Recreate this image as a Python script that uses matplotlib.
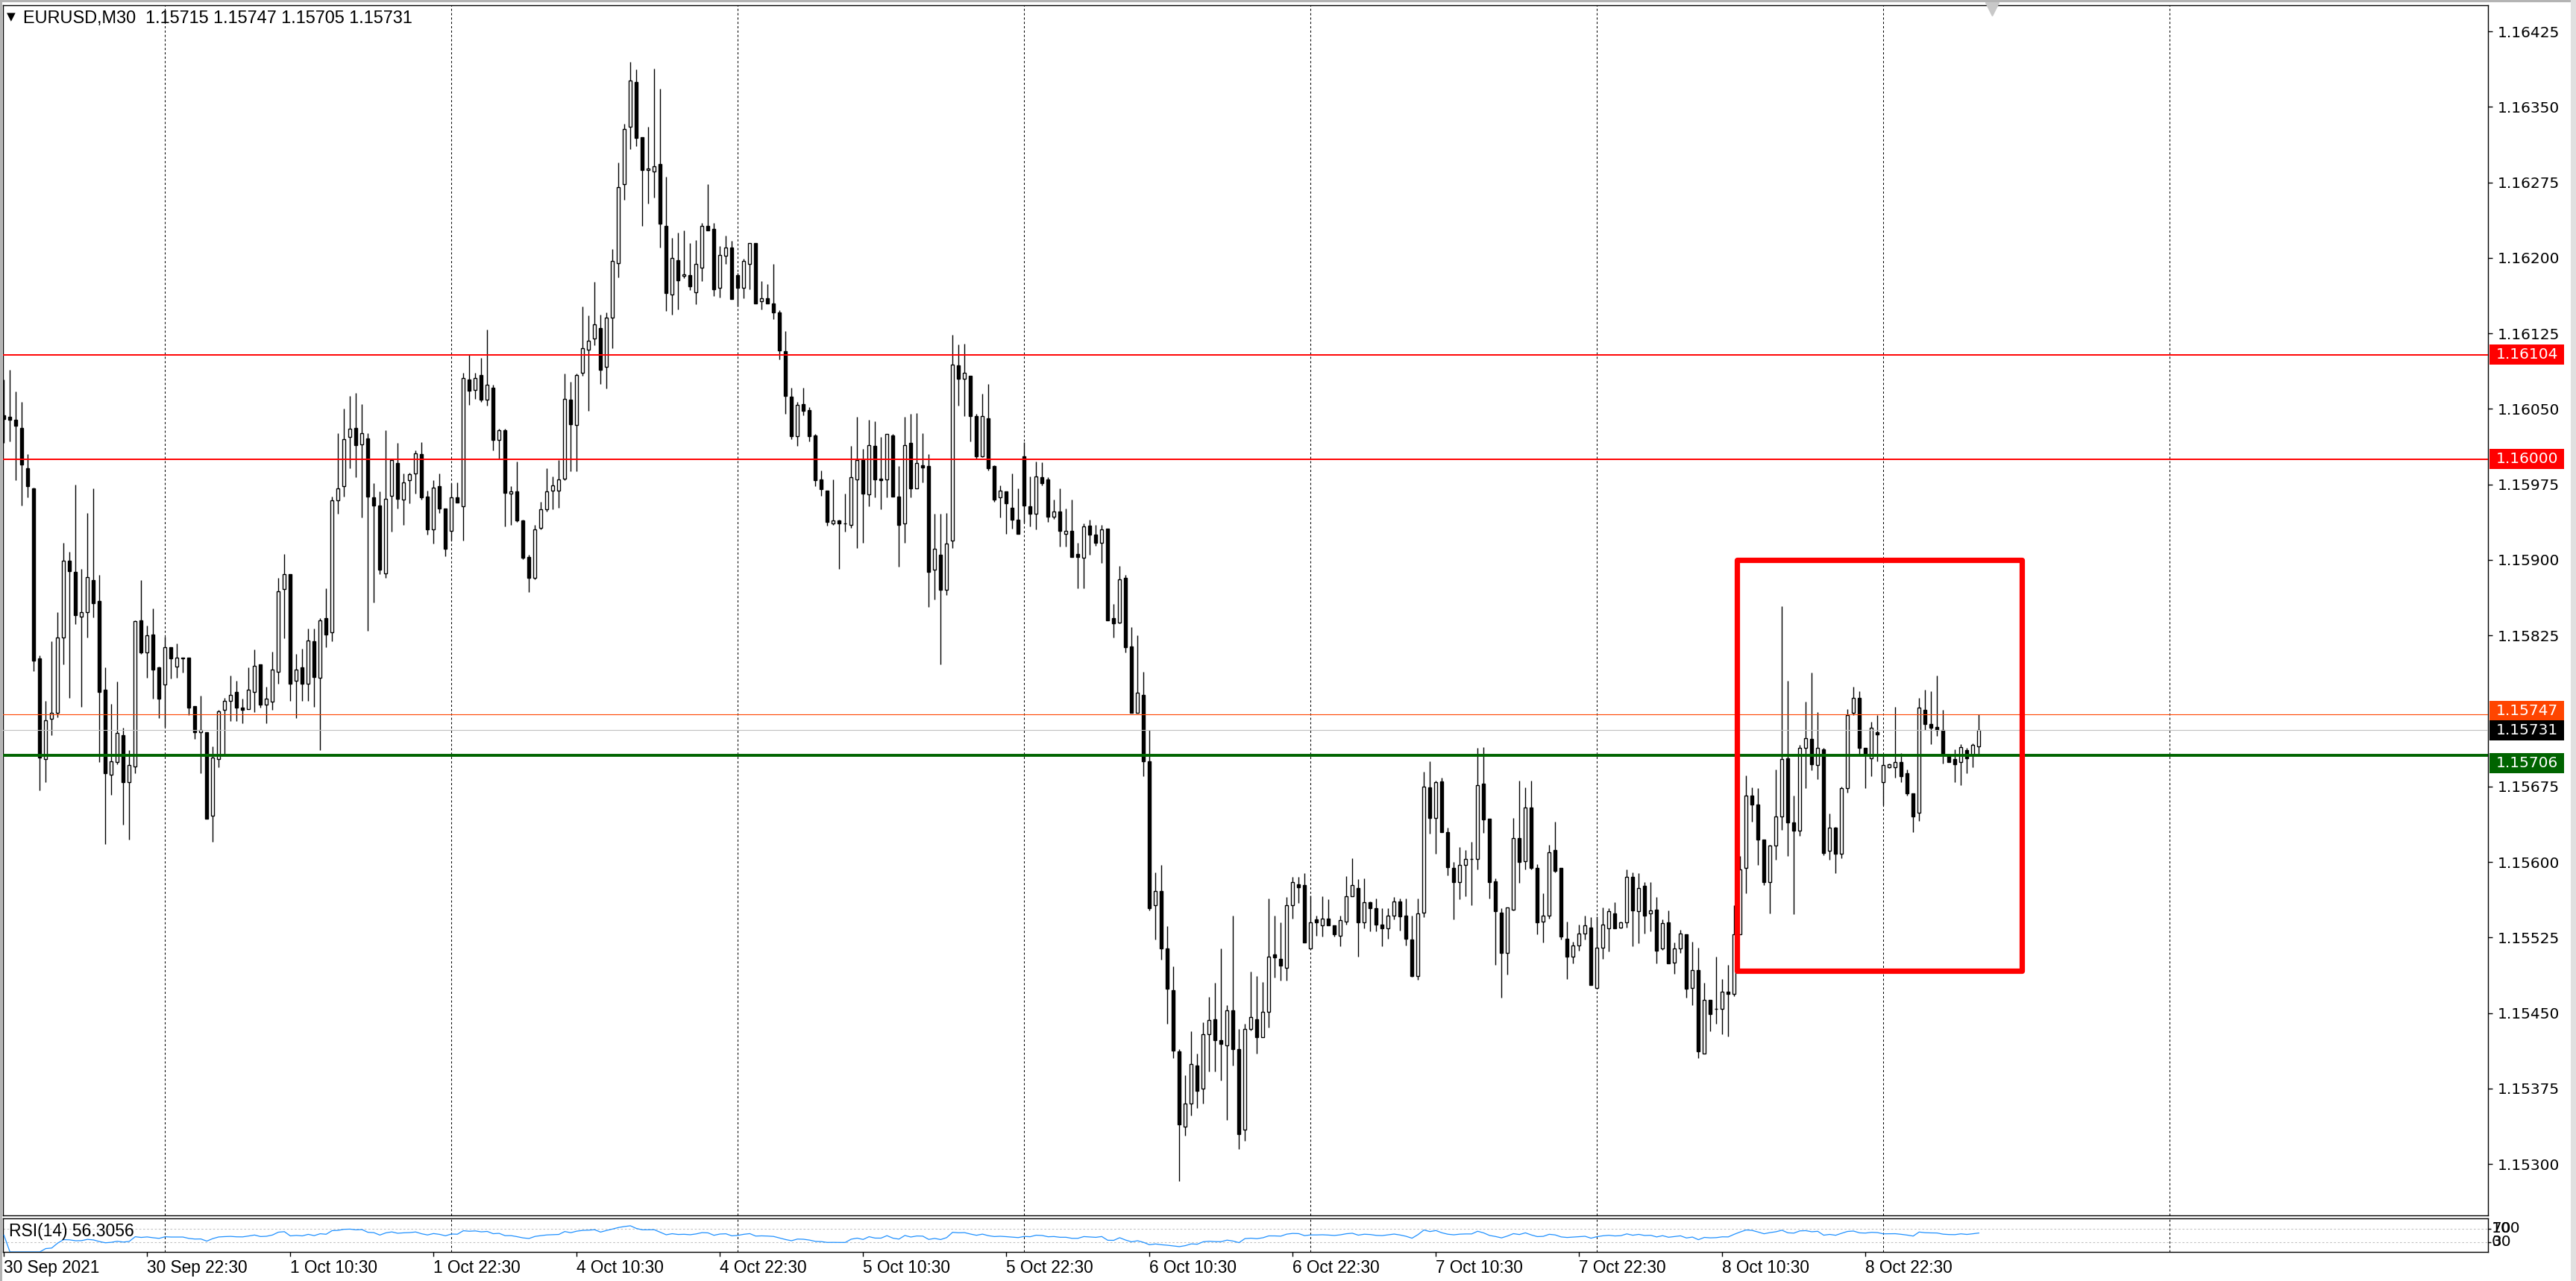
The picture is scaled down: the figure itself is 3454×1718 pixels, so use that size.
import matplotlib
matplotlib.use("Agg")
import matplotlib.pyplot as plt
import matplotlib.transforms as mtransforms
from matplotlib import font_manager
from matplotlib.patches import Rectangle
import numpy as np

# EURUSD M30 candles, oldest first (one bar every 30 min, weekend skipped)
opens = [
    1.16044, 1.16042, 1.16039, 1.16031, 1.15991, 1.15971, 1.15802, 1.15702, 1.15742, 1.15748, 1.15823, 1.15899,
    1.15888, 1.15844, 1.15848, 1.15880, 1.15859, 1.15771, 1.15687, 1.15699, 1.15726, 1.15679, 1.15695, 1.15840,
    1.15808, 1.15826, 1.15793, 1.15776, 1.15813, 1.15794, 1.15803, 1.15803, 1.15755, 1.15729, 1.15729, 1.15646,
    1.15702, 1.15751, 1.15760, 1.15769, 1.15753, 1.15752, 1.15769, 1.15796, 1.15756, 1.15759, 1.15789, 1.15871,
    1.15886, 1.15780, 1.15793, 1.15777, 1.15819, 1.15783, 1.15842, 1.15828, 1.15959, 1.15973, 1.16022, 1.16031,
    1.16015, 1.16021, 1.15962, 1.15954, 1.15887, 1.15964, 1.15996, 1.15960, 1.15979, 1.15986, 1.16005, 1.15963,
    1.15930, 1.15973, 1.15951, 1.15929, 1.15962, 1.15953, 1.16079, 1.16069, 1.16084, 1.16059, 1.16071, 1.16019,
    1.16029, 1.15966, 1.15968, 1.15939, 1.15903, 1.15882, 1.15932, 1.15950, 1.15969, 1.15969, 1.15981, 1.16059,
    1.16034, 1.16086, 1.16109, 1.16120, 1.16130, 1.16092, 1.16141, 1.16195, 1.16273, 1.16330, 1.16375, 1.16320,
    1.16287, 1.16286, 1.16293, 1.16232, 1.16164, 1.16198, 1.16182, 1.16183, 1.16166, 1.16190, 1.16232, 1.16229,
    1.16170, 1.16202, 1.16210, 1.16183, 1.16170, 1.16194, 1.16215, 1.16157, 1.16160, 1.16155, 1.16146, 1.16107,
    1.16062, 1.16023, 1.16055, 1.16049, 1.16024, 1.15980, 1.15969, 1.15936, 1.15939, 1.15936, 1.15935, 1.15980,
    1.15999, 1.15965, 1.16013, 1.15981, 1.15980, 1.16024, 1.15963, 1.15936, 1.16016, 1.15971, 1.15994, 1.15993,
    1.15890, 1.15905, 1.15870, 1.15919, 1.16093, 1.16080, 1.16083, 1.16043, 1.16003, 1.16041, 1.15993, 1.15962,
    1.15968, 1.15952, 1.15940, 1.16003, 1.15953, 1.15946, 1.15982, 1.15980, 1.15943, 1.15948, 1.15926, 1.15929,
    1.15906, 1.15902, 1.15934, 1.15925, 1.15917, 1.15931, 1.15842, 1.15838, 1.15882, 1.15814, 1.15748, 1.15766,
    1.15700, 1.15557, 1.15571, 1.15514, 1.15473, 1.15412, 1.15337, 1.15360, 1.15398, 1.15375, 1.15429, 1.15444,
    1.15423, 1.15418, 1.15453, 1.15414, 1.15334, 1.15434, 1.15444, 1.15426, 1.15451, 1.15508, 1.15504, 1.15495,
    1.15557, 1.15578, 1.15577, 1.15514, 1.15543, 1.15537, 1.15544, 1.15537, 1.15527, 1.15541, 1.15566, 1.15574,
    1.15540, 1.15560, 1.15554, 1.15538, 1.15534, 1.15547, 1.15561, 1.15547, 1.15523, 1.15487, 1.15550, 1.15674,
    1.15644, 1.15680, 1.15630, 1.15594, 1.15580, 1.15597, 1.15603, 1.15603, 1.15678, 1.15643, 1.15581, 1.15550,
    1.15510, 1.15553, 1.15624, 1.15601, 1.15654, 1.15594, 1.15541, 1.15547, 1.15612, 1.15594, 1.15524, 1.15506,
    1.15517, 1.15529, 1.15535, 1.15475, 1.15515, 1.15534, 1.15549, 1.15535, 1.15540, 1.15585, 1.15551, 1.15576,
    1.15549, 1.15553, 1.15514, 1.15540, 1.15500, 1.15514, 1.15528, 1.15475, 1.15493, 1.15410, 1.15463, 1.15454,
    1.15454, 1.15471, 1.15469, 1.15528, 1.15594, 1.15666, 1.15657, 1.15622, 1.15580, 1.15616, 1.15645, 1.15703,
    1.15639, 1.15631, 1.15713, 1.15722, 1.15696, 1.15712, 1.15611, 1.15634, 1.15608, 1.15673, 1.15748, 1.15763,
    1.15713, 1.15703, 1.15729, 1.15679, 1.15694, 1.15694, 1.15699, 1.15688, 1.15668, 1.15649, 1.15751, 1.15737,
    1.15734, 1.15731, 1.15707, 1.15702, 1.15699, 1.15711, 1.15707, 1.15715,
]
highs = [
    1.16079, 1.16089, 1.16067, 1.16057, 1.16005, 1.15972, 1.15805, 1.15760, 1.15819, 1.15848, 1.15917, 1.15908,
    1.15975, 1.15891, 1.15947, 1.15971, 1.15885, 1.15793, 1.15757, 1.15779, 1.15733, 1.15711, 1.15840, 1.15880,
    1.15835, 1.15852, 1.15794, 1.15824, 1.15813, 1.15817, 1.15803, 1.15803, 1.15755, 1.15765, 1.15729, 1.15715,
    1.15751, 1.15763, 1.15785, 1.15780, 1.15762, 1.15793, 1.15811, 1.15796, 1.15774, 1.15809, 1.15882, 1.15906,
    1.15886, 1.15807, 1.15812, 1.15832, 1.15832, 1.15842, 1.15872, 1.15963, 1.16026, 1.16050, 1.16063, 1.16066,
    1.16055, 1.16026, 1.15976, 1.15968, 1.16029, 1.16000, 1.16016, 1.15986, 1.15987, 1.16009, 1.16017, 1.15969,
    1.15979, 1.15986, 1.15951, 1.15976, 1.15977, 1.16086, 1.16104, 1.16086, 1.16101, 1.16129, 1.16074, 1.16030,
    1.16030, 1.15973, 1.15998, 1.15940, 1.15905, 1.15935, 1.15958, 1.15991, 1.15983, 1.15999, 1.16085, 1.16077,
    1.16085, 1.16152, 1.16143, 1.16176, 1.16144, 1.16146, 1.16209, 1.16295, 1.16333, 1.16395, 1.16387, 1.16320,
    1.16330, 1.16388, 1.16368, 1.16281, 1.16220, 1.16225, 1.16227, 1.16215, 1.16218, 1.16235, 1.16273, 1.16235,
    1.16212, 1.16222, 1.16217, 1.16185, 1.16199, 1.16215, 1.16215, 1.16177, 1.16174, 1.16194, 1.16148, 1.16127,
    1.16071, 1.16057, 1.16071, 1.16052, 1.16025, 1.15989, 1.15969, 1.15980, 1.15940, 1.15966, 1.16013, 1.16042,
    1.16010, 1.16039, 1.16038, 1.16022, 1.16025, 1.16025, 1.15993, 1.16042, 1.16045, 1.16046, 1.16026, 1.16005,
    1.15946, 1.15946, 1.15947, 1.16124, 1.16114, 1.16115, 1.16083, 1.16045, 1.16065, 1.16075, 1.15994, 1.15974,
    1.15968, 1.15986, 1.15971, 1.16017, 1.15983, 1.15998, 1.15997, 1.15982, 1.15960, 1.15971, 1.15951, 1.15960,
    1.15917, 1.15936, 1.15940, 1.15935, 1.15935, 1.15931, 1.15856, 1.15894, 1.15885, 1.15833, 1.15825, 1.15789,
    1.15731, 1.15590, 1.15597, 1.15536, 1.15496, 1.15414, 1.15388, 1.15432, 1.15410, 1.15441, 1.15466, 1.15480,
    1.15514, 1.15458, 1.15547, 1.15434, 1.15439, 1.15491, 1.15487, 1.15481, 1.15564, 1.15547, 1.15540, 1.15565,
    1.15585, 1.15585, 1.15589, 1.15567, 1.15547, 1.15566, 1.15563, 1.15537, 1.15547, 1.15586, 1.15604, 1.15583,
    1.15584, 1.15561, 1.15564, 1.15554, 1.15554, 1.15565, 1.15564, 1.15564, 1.15547, 1.15564, 1.15690, 1.15700,
    1.15681, 1.15684, 1.15634, 1.15600, 1.15615, 1.15612, 1.15620, 1.15713, 1.15714, 1.15643, 1.15584, 1.15554,
    1.15555, 1.15644, 1.15681, 1.15674, 1.15681, 1.15598, 1.15569, 1.15617, 1.15640, 1.15594, 1.15541, 1.15521,
    1.15538, 1.15547, 1.15545, 1.15546, 1.15555, 1.15554, 1.15560, 1.15541, 1.15593, 1.15590, 1.15589, 1.15580,
    1.15580, 1.15565, 1.15543, 1.15552, 1.15520, 1.15533, 1.15528, 1.15521, 1.15515, 1.15480, 1.15463, 1.15506,
    1.15484, 1.15498, 1.15557, 1.15606, 1.15686, 1.15674, 1.15673, 1.15622, 1.15617, 1.15692, 1.15854, 1.15780,
    1.15666, 1.15716, 1.15759, 1.15788, 1.15749, 1.15713, 1.15648, 1.15635, 1.15675, 1.15752, 1.15774, 1.15770,
    1.15713, 1.15739, 1.15746, 1.15707, 1.15698, 1.15754, 1.15708, 1.15692, 1.15668, 1.15763, 1.15771, 1.15770,
    1.15785, 1.15751, 1.15707, 1.15712, 1.15717, 1.15713, 1.15718, 1.15747,
]
lows = [
    1.16016, 1.16018, 1.15979, 1.15954, 1.15962, 1.15790, 1.15671, 1.15679, 1.15726, 1.15744, 1.15796, 1.15763,
    1.15836, 1.15754, 1.15823, 1.15843, 1.15699, 1.15618, 1.15667, 1.15697, 1.15637, 1.15622, 1.15688, 1.15807,
    1.15783, 1.15762, 1.15743, 1.15734, 1.15782, 1.15783, 1.15788, 1.15746, 1.15722, 1.15688, 1.15643, 1.15620,
    1.15694, 1.15707, 1.15740, 1.15740, 1.15738, 1.15752, 1.15749, 1.15753, 1.15738, 1.15751, 1.15777, 1.15822,
    1.15760, 1.15743, 1.15760, 1.15760, 1.15754, 1.15711, 1.15813, 1.15819, 1.15946, 1.15963, 1.15991, 1.15982,
    1.15942, 1.15830, 1.15858, 1.15886, 1.15882, 1.15928, 1.15951, 1.15935, 1.15956, 1.15966, 1.15960, 1.15925,
    1.15916, 1.15947, 1.15904, 1.15919, 1.15957, 1.15919, 1.16054, 1.16060, 1.16057, 1.16053, 1.16009, 1.16000,
    1.15933, 1.15935, 1.15938, 1.15901, 1.15868, 1.15881, 1.15930, 1.15948, 1.15950, 1.15952, 1.15979, 1.15988,
    1.15988, 1.16083, 1.16048, 1.16113, 1.16075, 1.16070, 1.16110, 1.16181, 1.16258, 1.16308, 1.16311, 1.16232,
    1.16254, 1.16260, 1.16210, 1.16147, 1.16144, 1.16149, 1.16180, 1.16168, 1.16154, 1.16177, 1.16227, 1.16162,
    1.16161, 1.16194, 1.16159, 1.16152, 1.16160, 1.16169, 1.16155, 1.16149, 1.16155, 1.16139, 1.16099, 1.16045,
    1.16020, 1.16013, 1.16044, 1.16018, 1.15973, 1.15964, 1.15934, 1.15935, 1.15891, 1.15928, 1.15932, 1.15912,
    1.15917, 1.15953, 1.15962, 1.15950, 1.15962, 1.15963, 1.15893, 1.15917, 1.15962, 1.15971, 1.15977, 1.15853,
    1.15861, 1.15796, 1.15865, 1.15912, 1.16053, 1.16043, 1.16018, 1.16001, 1.16002, 1.15989, 1.15958, 1.15942,
    1.15926, 1.15931, 1.15926, 1.15937, 1.15933, 1.15930, 1.15974, 1.15938, 1.15941, 1.15913, 1.15913, 1.15903,
    1.15872, 1.15872, 1.15905, 1.15914, 1.15897, 1.15840, 1.15823, 1.15837, 1.15808, 1.15748, 1.15748, 1.15685,
    1.15552, 1.15523, 1.15503, 1.15439, 1.15405, 1.15283, 1.15328, 1.15348, 1.15356, 1.15360, 1.15392, 1.15392,
    1.15383, 1.15344, 1.15398, 1.15315, 1.15323, 1.15433, 1.15410, 1.15426, 1.15436, 1.15485, 1.15482, 1.15482,
    1.15544, 1.15559, 1.15520, 1.15514, 1.15527, 1.15526, 1.15537, 1.15526, 1.15516, 1.15538, 1.15566, 1.15506,
    1.15534, 1.15531, 1.15531, 1.15516, 1.15524, 1.15543, 1.15532, 1.15517, 1.15486, 1.15483, 1.15545, 1.15628,
    1.15608, 1.15630, 1.15587, 1.15543, 1.15563, 1.15566, 1.15557, 1.15593, 1.15629, 1.15564, 1.15498, 1.15465,
    1.15488, 1.15552, 1.15579, 1.15593, 1.15593, 1.15528, 1.15520, 1.15544, 1.15590, 1.15523, 1.15484, 1.15499,
    1.15512, 1.15523, 1.15478, 1.15475, 1.15504, 1.15511, 1.15534, 1.15534, 1.15535, 1.15516, 1.15519, 1.15529,
    1.15531, 1.15499, 1.15513, 1.15499, 1.15489, 1.15510, 1.15465, 1.15458, 1.15405, 1.15410, 1.15432, 1.15439,
    1.15429, 1.15427, 1.15467, 1.15528, 1.15569, 1.15640, 1.15597, 1.15577, 1.15549, 1.15602, 1.15632, 1.15606,
    1.15548, 1.15626, 1.15673, 1.15691, 1.15682, 1.15607, 1.15602, 1.15589, 1.15604, 1.15669, 1.15746, 1.15707,
    1.15673, 1.15685, 1.15700, 1.15656, 1.15693, 1.15684, 1.15679, 1.15666, 1.15630, 1.15641, 1.15731, 1.15717,
    1.15725, 1.15698, 1.15699, 1.15679, 1.15676, 1.15688, 1.15694, 1.15705,
]
closes = [
    1.16040, 1.16039, 1.16033, 1.15995, 1.15973, 1.15800, 1.15704, 1.15741, 1.15748, 1.15823, 1.15899, 1.15889,
    1.15845, 1.15848, 1.15883, 1.15857, 1.15769, 1.15688, 1.15700, 1.15728, 1.15679, 1.15696, 1.15839, 1.15808,
    1.15825, 1.15791, 1.15762, 1.15813, 1.15802, 1.15803, 1.15802, 1.15753, 1.15729, 1.15731, 1.15643, 1.15704,
    1.15750, 1.15760, 1.15766, 1.15753, 1.15751, 1.15771, 1.15795, 1.15756, 1.15762, 1.15791, 1.15869, 1.15886,
    1.15777, 1.15791, 1.15777, 1.15820, 1.15784, 1.15840, 1.15826, 1.15959, 1.15971, 1.16020, 1.16030, 1.16014,
    1.16026, 1.15963, 1.15954, 1.15890, 1.15961, 1.15999, 1.15961, 1.15977, 1.15985, 1.16006, 1.15962, 1.15930,
    1.15972, 1.15951, 1.15911, 1.15962, 1.15957, 1.16081, 1.16068, 1.16081, 1.16059, 1.16074, 1.16019, 1.16029,
    1.15967, 1.15968, 1.15939, 1.15902, 1.15882, 1.15930, 1.15950, 1.15968, 1.15974, 1.15980, 1.16060, 1.16035,
    1.16084, 1.16110, 1.16118, 1.16134, 1.16089, 1.16141, 1.16197, 1.16270, 1.16328, 1.16376, 1.16319, 1.16287,
    1.16289, 1.16291, 1.16234, 1.16165, 1.16200, 1.16178, 1.16184, 1.16172, 1.16194, 1.16232, 1.16227, 1.16169,
    1.16203, 1.16210, 1.16159, 1.16170, 1.16197, 1.16215, 1.16155, 1.16160, 1.16155, 1.16146, 1.16108, 1.16063,
    1.16023, 1.16054, 1.16048, 1.16023, 1.15979, 1.15970, 1.15938, 1.15939, 1.15936, 1.15936, 1.15982, 1.15999,
    1.15966, 1.16014, 1.15980, 1.15979, 1.16025, 1.15963, 1.15935, 1.16014, 1.15971, 1.15996, 1.15992, 1.15888,
    1.15911, 1.15870, 1.15916, 1.16094, 1.16080, 1.16086, 1.16043, 1.16003, 1.16043, 1.15991, 1.15960, 1.15969,
    1.15956, 1.15940, 1.15926, 1.15954, 1.15946, 1.15983, 1.15976, 1.15943, 1.15948, 1.15929, 1.15929, 1.15903,
    1.15903, 1.15933, 1.15925, 1.15917, 1.15930, 1.15840, 1.15837, 1.15881, 1.15813, 1.15748, 1.15768, 1.15700,
    1.15554, 1.15571, 1.15514, 1.15474, 1.15413, 1.15339, 1.15360, 1.15399, 1.15373, 1.15429, 1.15443, 1.15423,
    1.15419, 1.15453, 1.15414, 1.15330, 1.15434, 1.15446, 1.15426, 1.15451, 1.15506, 1.15505, 1.15497, 1.15557,
    1.15580, 1.15575, 1.15520, 1.15540, 1.15540, 1.15544, 1.15537, 1.15528, 1.15542, 1.15566, 1.15577, 1.15540,
    1.15560, 1.15554, 1.15538, 1.15534, 1.15547, 1.15561, 1.15546, 1.15524, 1.15487, 1.15549, 1.15675, 1.15644,
    1.15679, 1.15630, 1.15595, 1.15580, 1.15597, 1.15603, 1.15603, 1.15676, 1.15642, 1.15580, 1.15551, 1.15510,
    1.15555, 1.15624, 1.15600, 1.15654, 1.15594, 1.15540, 1.15547, 1.15610, 1.15591, 1.15526, 1.15506, 1.15517,
    1.15529, 1.15537, 1.15478, 1.15515, 1.15538, 1.15551, 1.15534, 1.15540, 1.15585, 1.15552, 1.15574, 1.15547,
    1.15552, 1.15512, 1.15539, 1.15499, 1.15514, 1.15529, 1.15474, 1.15493, 1.15412, 1.15463, 1.15449, 1.15454,
    1.15471, 1.15469, 1.15528, 1.15593, 1.15666, 1.15657, 1.15622, 1.15580, 1.15616, 1.15645, 1.15702, 1.15639,
    1.15631, 1.15713, 1.15723, 1.15697, 1.15713, 1.15609, 1.15634, 1.15608, 1.15673, 1.15746, 1.15763, 1.15713,
    1.15707, 1.15733, 1.15727, 1.15696, 1.15697, 1.15699, 1.15685, 1.15668, 1.15645, 1.15753, 1.15737, 1.15733,
    1.15731, 1.15707, 1.15699, 1.15697, 1.15714, 1.15703, 1.15716, 1.15731,
]

time_labels = ['30 Sep 2021', '30 Sep 22:30', '1 Oct 10:30', '1 Oct 22:30', '4 Oct 10:30',
               '4 Oct 22:30', '5 Oct 10:30', '5 Oct 22:30', '6 Oct 10:30', '6 Oct 22:30',
               '7 Oct 10:30', '7 Oct 22:30', '8 Oct 10:30', '8 Oct 22:30']
bars_per_label = 24
first_midnight_bar = 27
bars_per_day = 48

title = 'EURUSD,M30  1.15715 1.15747 1.15705 1.15731'
rsi_title = 'RSI(14) 56.3056'

red_levels = [1.16104, 1.16000]
green_level = 1.15706
ask_price = 1.15747
bid_price = closes[-1]

# red box drawn on the chart (bar index / price)
box_left, box_right = 290.5, 338.2
box_bottom, box_top = 1.15492, 1.15900

assert len(opens) == len(highs) == len(lows) == len(closes)

o = np.array(opens)
h = np.array(highs)
l = np.array(lows)
c = np.array(closes)
x = np.arange(len(c))
up = c >= o

# RSI(14), Wilder smoothing
d = np.diff(c)
ag = al = 0.0
rsi = [50.0]
for i, dv in enumerate(d):
    n = min(i + 1, 14)
    ag += (max(dv, 0) - ag) / n
    al += (max(-dv, 0) - al) / n
    rsi.append(100.0 if al == 0 else 100 - 100 / (1 + ag / al))

avail = {f.name for f in font_manager.fontManager.ttflist}
if 'Liberation Sans Narrow' in avail:
    time_font, time_size = 'Liberation Sans Narrow', 19
else:
    time_font, time_size = 'Liberation Sans', 16.3
price_font, price_size = 'DejaVu Sans', 14.5

W, H = 3455, 1718
fig = plt.figure(figsize=(W / 100, H / 100), dpi=100)
fig.patch.set_facecolor('white')

ax_l, ax_r = 4, 3336
main_top, main_bot = 7, 1630
rsi_top, rsi_bot = 1634, 1679
ax = fig.add_axes([ax_l / W, 1 - main_bot / H, (ax_r - ax_l) / W, (main_bot - main_top) / H])
ax2 = fig.add_axes([ax_l / W, 1 - rsi_bot / H, (ax_r - ax_l) / W, (rsi_bot - rsi_top) / H])

bar_px = 8.0
x0 = -0.16
x1 = x0 + (ax_r - ax_l) / bar_px
ax.set_xlim(x0, x1)
ax2.set_xlim(x0, x1)
ax.set_ylim(1.15249, 1.16451)
ax2.set_ylim(0, 100)

for a in (ax, ax2):
    for s in a.spines.values():
        s.set_color('black')
        s.set_linewidth(1.0)

# day separators
for b in np.arange(first_midnight_bar, x1 - bars_per_day / 2, bars_per_day):
    for a in (ax, ax2):
        a.axvline(b, color='black', lw=0.75, ls=(0, (2.8, 2.8)), zorder=1)

# candles
ax.vlines(x, l, h, color='black', lw=1.0, zorder=2)
ax.bar(x[up], (c - o)[up], bottom=o[up], width=0.5, facecolor='white',
       edgecolor='black', linewidth=1.0, zorder=3)
ax.bar(x[~up], (o - c)[~up], bottom=c[~up], width=0.5, facecolor='black',
       edgecolor='black', linewidth=1.0, zorder=3)

# horizontal lines
for lv in red_levels:
    ax.axhline(lv, color='#FF0000', lw=1.4, zorder=4)
ax.axhline(ask_price, color='#FF4500', lw=0.8, zorder=4)
ax.axhline(bid_price, color='#C0C0C0', lw=0.8, zorder=4)
ax.axhline(green_level, color='#006400', lw=2.8, zorder=4)

ax.add_patch(Rectangle((box_left, box_bottom), box_right - box_left, box_top - box_bottom,
                       fill=False, edgecolor='#FF0000', lw=5.2, joinstyle='round', zorder=5))

# price scale
ticks = np.round(np.arange(1.16425, 1.15290, -0.00075), 5)
tags = [(red_levels[0], '#FF0000', 0), (red_levels[1], '#FF0000', 0),
        (ask_price, '#FF4500', 4), (bid_price, '#000000', 0), (green_level, '#006400', -11)]
keep = [t for t in ticks if all(abs(t - p) > 0.00015 for p, _, _ in tags)]
ax.yaxis.tick_right()
ax.set_yticks(keep)
ax.set_yticklabels(['%.5f' % t for t in keep], fontfamily=price_font, fontsize=price_size)
ax.tick_params(axis='y', length=4, width=1, pad=5, direction='out')
ax.set_xticks([])

py = (1.16451 - 1.15249) / (main_bot - main_top)  # price per pixel
px = 1.0 / (ax_r - ax_l)
tr = mtransforms.blended_transform_factory(ax.transAxes, ax.transData)
for price, col, shift in tags:
    yc = price + shift * py
    ax.add_patch(Rectangle((1 + 2 * px, yc - 13.5 * py), 100 * px, 27 * py, transform=tr,
                           facecolor=col, edgecolor='none', clip_on=False, zorder=6))
    ax.text(1 + 11 * px, yc, '%.5f' % price, transform=tr, color='white', va='center',
            ha='left', fontfamily=price_font, fontsize=price_size, clip_on=False, zorder=7)

# RSI panel
ax2.plot(x, rsi, color='#1E90FF', lw=0.9, zorder=3)
for lv in (70, 30):
    ax2.axhline(lv, color='#C0C0C0', lw=0.75, ls=(0, (2.5, 2.5)), zorder=2)
ax2.yaxis.tick_right()
ax2.set_yticks([30, 70])
ax2.set_yticklabels([])
ax2.tick_params(axis='y', length=3, width=1, direction='out')
tr2 = mtransforms.blended_transform_factory(ax2.transAxes, ax2.transData)
# MT4 squeezes the 100/70 and 30/0 level labels on top of each other in a thin window
for txt, lv in (('100', 70), ('70', 70), ('30', 30), ('0', 30)):
    ax2.text(1 + 5 * px, lv, txt, transform=tr2, va='center', ha='left',
             fontfamily=price_font, fontsize=price_size, clip_on=False)
ax2.text(8 * px, 0.62, rsi_title, transform=ax2.transAxes, va='center', ha='left',
         fontfamily='Liberation Sans', fontsize=16.5, zorder=5)

ax2.set_xticks(np.arange(len(time_labels)) * bars_per_label)
ax2.set_xticklabels(time_labels, fontfamily=time_font, fontsize=time_size)
for t in ax2.get_xticklabels():
    t.set_horizontalalignment('left')
ax2.tick_params(axis='x', length=4, width=1, pad=3, direction='out')

# chart header and shift marker
fig.text(9 / W, 1 - 23 / H, '\u25bc', fontsize=11, va='center', ha='left', color='black')
fig.text(31 / W, 1 - 24 / H, title, fontfamily='Liberation Sans', fontsize=16.9,
         va='center', ha='left')
ax.plot([x[-1] + 2.2], [1 - 5 / (main_bot - main_top)], marker='v', ms=13, color='#C8C8C8',
        transform=mtransforms.blended_transform_factory(ax.transData, ax.transAxes),
        clip_on=False, zorder=8)

# window frame strips
fig.patches.append(Rectangle((0, 1 - 3 / H), 1, 3 / H, transform=fig.transFigure,
                             facecolor='#B4B4B4', edgecolor='none'))
fig.patches.append(Rectangle((0, 0), 3 / W, 1, transform=fig.transFigure,
                             facecolor='#B4B4B4', edgecolor='none'))
fig.patches.append(Rectangle((1 - 8 / W, 0), 8 / W, 1, transform=fig.transFigure,
                             facecolor='#E0E0E0', edgecolor='none'))

fig.savefig('out.png', dpi=100)
